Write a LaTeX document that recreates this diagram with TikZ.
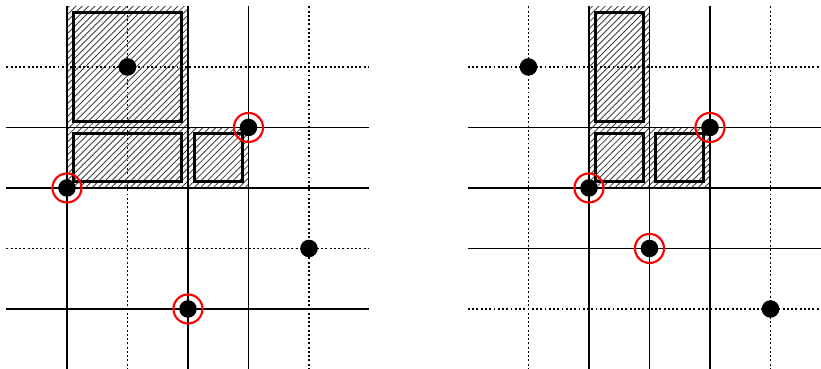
\documentclass[tikz,border=0pt]{standalone}
\usetikzlibrary{patterns}
\begin{document}
\begin{tikzpicture}[
      x=1cm, y=-1cm,
      off/.store in=\OFF, off=7.628,   % shift of right panel
      solidln/.style={line width=0.5pt},
      dotln/.style={line width=0.8pt, dash pattern=on 0.9pt off 1.1pt},
      hatch/.style={pattern=north east lines, pattern color=black!75},
      cell/.style={line width=1.4pt},
      pt/.style={circle, fill=black, inner sep=0pt, minimum size=0.29cm},
      ring/.style={circle, draw=red, line width=1pt, inner sep=0pt, minimum size=0.48cm},
    ]
    \clip (-0.107,-0.107) rectangle (13.463,5.992);

    % Left panel: hatched blocks
    \fill[hatch] (1,0) rectangle (3,2);
    \fill[hatch] (1,2) rectangle (4,3);

    % Left panel: grid
    \foreach \i/\s in {1/solidln,2/dotln,3/solidln,4/solidln,5/dotln}
      \draw[\s] (\i,0) -- (\i,6);
    \foreach \j/\s in {1/dotln,2/solidln,3/solidln,4/dotln,5/solidln}
      \draw[\s] (0,\j) -- (6,\j);

    % Left panel: cells
    \draw[cell] (1.1,0.1) rectangle (2.9,1.9);
    \draw[cell] (1.1,2.1) rectangle (2.9,2.9);
    \draw[cell] (3.1,2.1) rectangle (3.9,2.9);

    % Left panel: points
    \node[pt] (l1) at (2,1) {};
    \node[pt] (l2) at (4,2) {};
    \node[pt] (l3) at (1,3) {};
    \node[pt] (l4) at (5,4) {};
    \node[pt] (l5) at (3,5) {};
    \node[ring] (l2r) at (l2) {};
    \node[ring] (l3r) at (l3) {};
    \node[ring] (l5r) at (l5) {};

    \begin{scope}[xshift=\OFF cm]
      % Right panel: hatched blocks
      \fill[hatch] (2,0) rectangle (3,2);
      \fill[hatch] (2,2) rectangle (4,3);

      % Right panel: grid
      \foreach \i/\s in {1/dotln,2/solidln,3/solidln,4/solidln,5/dotln}
        \draw[\s] (\i,0) -- (\i,6);
      \foreach \j/\s in {1/dotln,2/solidln,3/solidln,4/solidln,5/dotln}
        \draw[\s] (0,\j) -- (6,\j);

      % Right panel: cells
      \draw[cell] (2.1,0.1) rectangle (2.9,1.9);
      \draw[cell] (2.1,2.1) rectangle (2.9,2.9);
      \draw[cell] (3.1,2.1) rectangle (3.9,2.9);

      % Right panel: points
      \node[pt] (r1) at (1,1) {};
      \node[pt] (r2) at (4,2) {};
      \node[pt] (r3) at (2,3) {};
      \node[pt] (r4) at (3,4) {};
      \node[pt] (r5) at (5,5) {};
      \node[ring] (r2r) at (r2) {};
      \node[ring] (r3r) at (r3) {};
      \node[ring] (r4r) at (r4) {};
    \end{scope}
  \end{tikzpicture}
\end{document}
